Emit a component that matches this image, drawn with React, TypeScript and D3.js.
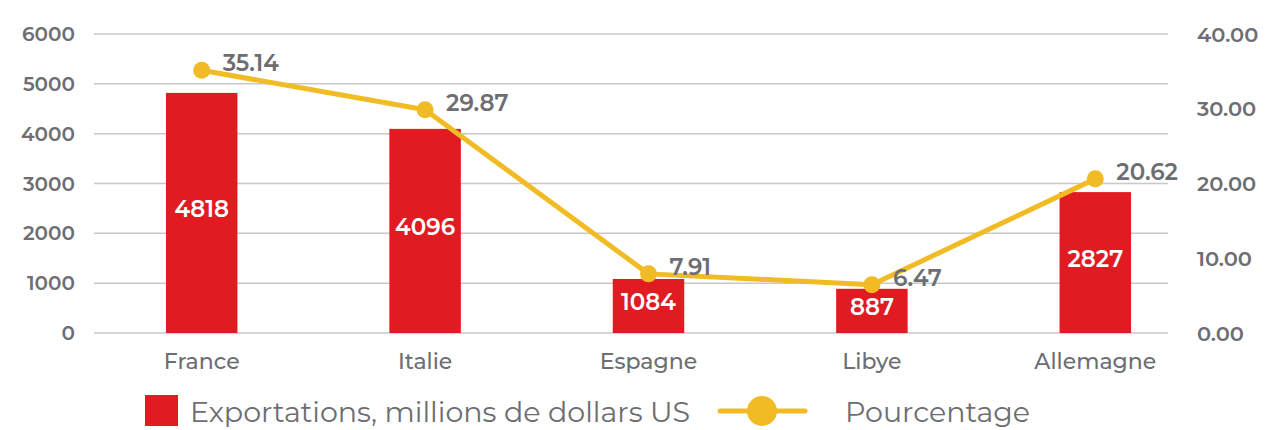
import React, { useEffect, useRef } from 'react';
import * as d3 from 'd3';

const countries = ['France', 'Italie', 'Espagne', 'Libye', 'Allemagne'];
const exportsMillions = [4818, 4096, 1084, 887, 2827];
const percentages = [35.14, 29.87, 7.91, 6.47, 20.62];
const leftTicks = [0, 1000, 2000, 3000, 4000, 5000, 6000];
const rightTicks = [0, 10, 20, 30, 40];

const RED = '#e01b22';
const GOLD = '#f0bb24';
const GREY = '#6d6d72';
const FONT = "Montserrat, 'Open Sans', sans-serif";

export default function App() {
  const ref = useRef<SVGSVGElement>(null);

  useEffect(() => {
    if (!ref.current) return;
    const svg = d3.select(ref.current);
    svg.selectAll('*').remove();

    const top = 34, bottom = 333;
    const gridLeft = 94, gridRight = 1168;

    const x = d3.scaleBand<string>()
      .domain(countries)
      .range([90, 1207])
      .paddingInner(0.68)
      .paddingOuter(0.34);

    const yL = d3.scaleLinear().domain([0, 6000]).range([bottom, top]);
    const yR = d3.scaleLinear().domain([0, 40]).range([bottom, top]);

    // grid lines
    svg.append('g')
      .selectAll('line')
      .data(leftTicks)
      .enter()
      .append('line')
      .attr('x1', gridLeft)
      .attr('x2', gridRight)
      .attr('y1', d => yL(d))
      .attr('y2', d => yL(d))
      .attr('stroke', '#c8c8c8')
      .attr('stroke-width', 1.5);

    // left axis labels
    svg.append('g')
      .selectAll('text')
      .data(leftTicks)
      .enter()
      .append('text')
      .text(d => d)
      .attr('x', 75)
      .attr('y', d => yL(d))
      .attr('text-anchor', 'end')
      .attr('dominant-baseline', 'central')
      .attr('font-size', '20px')
      .attr('font-weight', 600)
      .attr('fill', GREY);

    // right axis labels
    svg.append('g')
      .selectAll('text')
      .data(rightTicks)
      .enter()
      .append('text')
      .text(d => d.toFixed(2))
      .attr('x', 1197)
      .attr('y', d => yR(d))
      .attr('dominant-baseline', 'central')
      .attr('font-size', '21px')
      .attr('font-weight', 600)
      .attr('fill', GREY);

    // bars
    svg.append('g')
      .selectAll('rect')
      .data(countries)
      .enter()
      .append('rect')
      .attr('x', d => x(d) || 0)
      .attr('width', x.bandwidth())
      .attr('y', (d, i) => yL(exportsMillions[i]))
      .attr('height', (d, i) => bottom - yL(exportsMillions[i]))
      .attr('fill', RED);

    // bar labels
    svg.append('g')
      .selectAll('text')
      .data(countries)
      .enter()
      .append('text')
      .text((d, i) => exportsMillions[i])
      .attr('x', d => (x(d) || 0) + x.bandwidth() / 2)
      .attr('y', (d, i) => (yL(exportsMillions[i]) + bottom) / 2 - 4)
      .attr('text-anchor', 'middle')
      .attr('dominant-baseline', 'central')
      .attr('font-size', '23px')
      .attr('font-weight', 600)
      .attr('fill', 'white');

    // category labels
    svg.append('g')
      .selectAll('text')
      .data(countries)
      .enter()
      .append('text')
      .text(d => d)
      .attr('x', d => (x(d) || 0) + x.bandwidth() / 2)
      .attr('y', 361)
      .attr('text-anchor', 'middle')
      .attr('dominant-baseline', 'central')
      .attr('font-size', '22px')
      .attr('font-weight', 500)
      .attr('fill', GREY);

    // line
    const pts = countries.map((c, i) => [(x(c) || 0) + x.bandwidth() / 2, yR(percentages[i])] as [number, number]);
    svg.append('path')
      .attr('d', d3.line()(pts))
      .attr('fill', 'none')
      .attr('stroke', GOLD)
      .attr('stroke-width', 5)
      .attr('stroke-linejoin', 'round');

    svg.append('g')
      .selectAll('circle')
      .data(pts)
      .enter()
      .append('circle')
      .attr('cx', d => d[0])
      .attr('cy', d => d[1])
      .attr('r', 8.5)
      .attr('fill', GOLD);

    svg.append('g')
      .selectAll('text')
      .data(pts)
      .enter()
      .append('text')
      .text((d, i) => percentages[i].toFixed(2))
      .attr('x', d => d[0] + 21)
      .attr('y', d => d[1] - 7)
      .attr('dominant-baseline', 'central')
      .attr('font-size', '23px')
      .attr('font-weight', 600)
      .attr('fill', GREY);

    // legend
    const lg = svg.append('g');
    lg.append('rect')
      .attr('x', 145).attr('y', 395).attr('width', 33).attr('height', 31)
      .attr('fill', RED);
    lg.append('text')
      .text('Exportations, millions de dollars US')
      .attr('x', 190).attr('y', 411)
      .attr('dominant-baseline', 'central')
      .attr('font-size', '28.5px')
      .attr('fill', GREY);
    lg.append('line')
      .attr('x1', 720).attr('x2', 805).attr('y1', 411).attr('y2', 411)
      .attr('stroke', GOLD).attr('stroke-width', 5).attr('stroke-linecap', 'round');
    lg.append('circle')
      .attr('cx', 762).attr('cy', 411).attr('r', 15).attr('fill', GOLD);
    lg.append('text')
      .text('Pourcentage')
      .attr('x', 845).attr('y', 411)
      .attr('dominant-baseline', 'central')
      .attr('font-size', '28.5px')
      .attr('fill', GREY);
  }, []);

  return (
    <svg
      ref={ref}
      width={1270}
      height={430}
      style={{ position: 'absolute', left: 0, top: 0, fontFamily: FONT, background: 'white' }}
    />
  );
}
